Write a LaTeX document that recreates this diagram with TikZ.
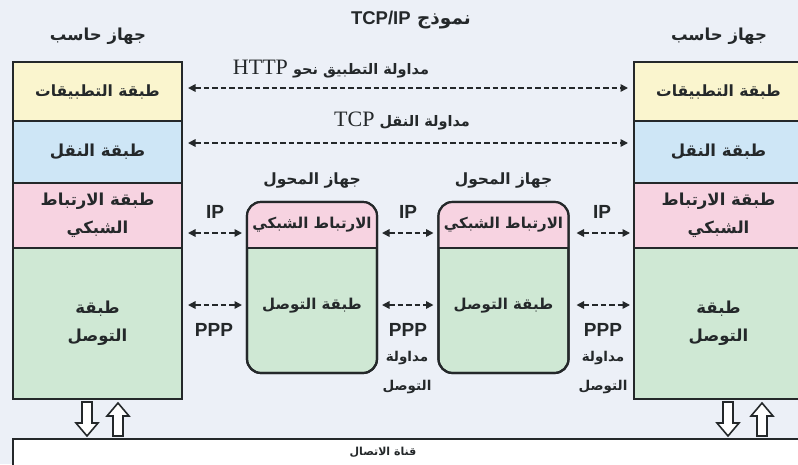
\documentclass[tikz,border=0pt]{standalone}
\usepackage{fontspec}
\setmainfont{Liberation Sans}
\newfontfamily\arabicfont[Script=Arabic]{DejaVu Sans}
\newfontfamily\latinsans{Liberation Sans}
\newfontfamily\latinserif{Liberation Serif}
\TeXXeTstate=1
\usetikzlibrary{arrows.meta,calc}

% Arabic text, set right to left
\newcommand\artext[1]{{\arabicfont\bfseries\beginR #1\endR}}

\definecolor{appY}{RGB}{250,245,206}
\definecolor{trB}{RGB}{206,230,246}
\definecolor{netP}{RGB}{247,211,225}
\definecolor{linkG}{RGB}{207,232,212}
\definecolor{bgc}{RGB}{236,240,247}
\definecolor{ink}{RGB}{36,40,42}

\tikzset{
  layerbox/.style={draw=ink, line width=2.2pt, minimum width=169, inner sep=0pt,
    outer sep=0pt, align=center, text=ink, font=\fontsize{16.5}{28}\selectfont},
  switchbox/.style={draw=ink, line width=2.2pt, minimum width=130, minimum height=171,
    rounded corners=14, inner sep=0pt, outer sep=0pt, fill=linkG},
  lbl/.style={text=ink, inner sep=1pt, align=center},
  dasharrow/.style={draw=ink, line width=1.6pt, dash pattern=on 5.5pt off 3pt,
    {Triangle[length=7.5pt,width=7.5pt]}-{Triangle[length=7.5pt,width=7.5pt]}},
  blockar/.style={draw=ink, line width=1.6pt, fill=white, line join=miter},
  hollowdown/.pic={\draw[blockar] (-5,0) -- (5,0) -- (5,21) -- (11,21) -- (0,34)
    -- (-11,21) -- (-5,21) -- cycle;},
  hollowup/.pic={\draw[blockar] (-5,33) -- (5,33) -- (5,13) -- (11,13) -- (0,0)
    -- (-11,13) -- (-5,13) -- cycle;},
}

\begin{document}
\begin{tikzpicture}[x=1pt,y=-1pt]
\useasboundingbox (0,0) rectangle (798,464);
\fill[bgc] (0,0) rectangle (798,464);

% rows used by the connectors
\coordinate (httpRow) at (0,88);
\coordinate (tcpRow) at (0,143);
\coordinate (ipRow) at (0,233);
\coordinate (pppRow) at (0,305);
\coordinate (divRow) at (0,248);

% title and host captions
\node[lbl, font=\fontsize{18.5}{22}\selectfont] (title) at (411,20)
  {\artext{نموذج \beginL{\latinsans\bfseries TCP/IP}\endL}};
\node[lbl, font=\fontsize{16.5}{20}\selectfont] (hostL) at (98,36) {\artext{جهاز حاسب}};
\node[lbl, font=\fontsize{16.5}{20}\selectfont] (hostR) at (719,36) {\artext{جهاز حاسب}};

% left host stack
\node[layerbox, fill=appY, minimum height=59] (Lapp) at (97.5,91.5)
  {\fontsize{15.5}{20}\selectfont\artext{طبقة التطبيقات}};
\node[layerbox, fill=trB, minimum height=62] (Ltr) at (97.5,152) {\artext{طبقة النقل}};
\node[layerbox, fill=netP, minimum height=65] (Lnet) at (97.5,215.5)
  {\artext{طبقة الارتباط}\\\artext{الشبكي}};
\node[layerbox, fill=linkG, minimum height=151] (Llink) at (97.5,323.5)
  {\artext{طبقة}\\\artext{التوصل}};

% right host stack
\node[layerbox, fill=appY, minimum height=59] (Rapp) at (718.5,91.5)
  {\fontsize{15.5}{20}\selectfont\artext{طبقة التطبيقات}};
\node[layerbox, fill=trB, minimum height=62] (Rtr) at (718.5,152) {\artext{طبقة النقل}};
\node[layerbox, fill=netP, minimum height=65] (Rnet) at (718.5,215.5)
  {\artext{طبقة الارتباط}\\\artext{الشبكي}};
\node[layerbox, fill=linkG, minimum height=151] (Rlink) at (718.5,323.5)
  {\artext{طبقة}\\\artext{التوصل}};

% the two switches
\foreach \s/\cx in {s1/312, s2/503.5}{
  \node[switchbox] (\s) at (\cx,287.5) {};
  \begin{scope}
    \clip (\cx-70,190) rectangle (\cx+70,248);
    \fill[netP, rounded corners=14] (\s.south west) rectangle (\s.north east);
  \end{scope}
  \draw[ink, line width=2.2pt] (\s.west |- divRow) -- (\s.east |- divRow);
  \draw[ink, line width=2.2pt, rounded corners=14] (\s.south west) rectangle (\s.north east);
  \node[lbl, font=\fontsize{15.5}{18}\selectfont] (\s cap) at (\cx,181) {\artext{جهاز المحول}};
  \node[lbl, font=\fontsize{15}{18}\selectfont] (\s net) at (\cx,225) {\artext{الارتباط الشبكي}};
  \node[lbl, font=\fontsize{15}{18}\selectfont] (\s link) at (\cx,306) {\artext{طبقة التوصل}};
}

% end-to-end protocols
\draw[dasharrow, shorten <=6pt, shorten >=6pt] (Lapp.east |- httpRow) -- (Rapp.west |- httpRow);
\node[lbl, font=\fontsize{14.5}{18}\selectfont] (httpLbl) at (331,69)
  {\artext{مداولة التطبيق نحو \beginL{\latinserif\mdseries\fontsize{22}{22}\selectfont HTTP}\endL}};
\draw[dasharrow, shorten <=6pt, shorten >=6pt] (Ltr.east |- tcpRow) -- (Rtr.west |- tcpRow);
\node[lbl, font=\fontsize{14.5}{18}\selectfont] (tcpLbl) at (402,121)
  {\artext{مداولة النقل \beginL{\latinserif\mdseries\fontsize{22}{22}\selectfont TCP}\endL}};

% hop-by-hop IP links
\draw[dasharrow, shorten <=6pt, shorten >=5pt] (Lnet.east |- ipRow) -- (s1.west |- ipRow);
\draw[dasharrow, shorten <=5pt, shorten >=5pt] (s1.east |- ipRow) -- (s2.west |- ipRow);
\draw[dasharrow, shorten <=8pt, shorten >=4pt] (s2.east |- ipRow) -- (Rnet.west |- ipRow);
\foreach \n/\x in {ipA/215, ipB/408, ipC/602}
  \node[lbl, font=\latinsans\bfseries\fontsize{19}{20}\selectfont] (\n) at (\x,212) {IP};

% hop-by-hop PPP links
\draw[dasharrow, shorten <=6pt, shorten >=5pt] (Llink.east |- pppRow) -- (s1.west |- pppRow);
\draw[dasharrow, shorten <=5pt, shorten >=5pt] (s1.east |- pppRow) -- (s2.west |- pppRow);
\draw[dasharrow, shorten <=8pt, shorten >=4pt] (s2.east |- pppRow) -- (Rlink.west |- pppRow);
\foreach \n/\x in {pppA/214, pppB/408, pppC/603}
  \node[lbl, font=\latinsans\bfseries\fontsize{19}{20}\selectfont] (\n) at (\x,330) {PPP};
\foreach \n/\x in {pB/407, pC/603}{
  \node[lbl, font=\fontsize{13.5}{16}\selectfont] (\n a) at (\x,358) {\artext{مداولة}};
  \node[lbl, font=\fontsize{13.5}{16}\selectfont] (\n b) at (\x,387) {\artext{التوصل}};
}

% communication channel
\node[draw=ink, fill=white, line width=2.2pt, minimum width=800, minimum height=40,
  anchor=north west, inner sep=0pt, outer sep=0pt] (chan) at (13,439) {};
\node[lbl, font=\fontsize{11}{13}\selectfont] (chanLbl) at (383,452) {\artext{قناة الاتصال}};

% send / receive arrows between hosts and channel
\pic at (87,402) {hollowdown};
\pic at (118,403) {hollowup};
\pic at (728,402) {hollowdown};
\pic at (762,403) {hollowup};
\end{tikzpicture}
\end{document}
